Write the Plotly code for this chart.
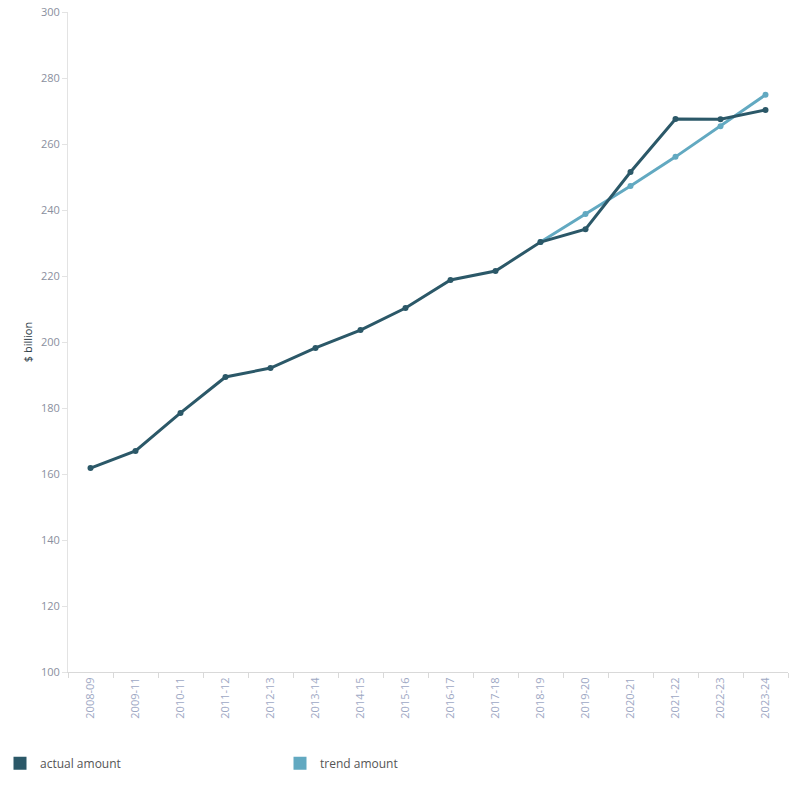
import plotly.graph_objects as go

years = ["2008-09", "2009-11", "2010-11", "2011-12", "2012-13", "2013-14", "2014-15", "2015-16",
         "2016-17", "2017-18", "2018-19", "2019-20", "2020-21", "2021-22", "2022-23", "2023-24"]
actual = [161.8, 167.0, 178.5, 189.4, 192.1, 198.2, 203.6, 210.3,
          218.8, 221.5, 230.3, 234.2, 251.5, 267.6, 267.5, 270.3]
trend_years = ["2018-19", "2019-20", "2020-21", "2021-22", "2022-23", "2023-24"]
trend = [230.3, 238.8, 247.3, 256.1, 265.4, 274.9]

c_actual = "#2b5868"
c_trend = "#62a9c1"
font = "Open Sans"

fig = go.Figure()
fig.add_trace(go.Scatter(x=trend_years, y=trend, mode="lines+markers", name="trend amount",
                         line=dict(color=c_trend, width=3), marker=dict(color=c_trend, size=6),
                         showlegend=False))
fig.add_trace(go.Scatter(x=years, y=actual, mode="lines+markers", name="actual amount",
                         line=dict(color=c_actual, width=3), marker=dict(color=c_actual, size=6),
                         showlegend=False))
# legend entries (square swatches)
fig.add_trace(go.Scatter(x=[None], y=[None], mode="markers", name="actual amount",
                         marker=dict(symbol="square", size=13, color=c_actual)))
fig.add_trace(go.Scatter(x=[None], y=[None], mode="markers", name="trend amount",
                         marker=dict(symbol="square", size=13, color=c_trend)))

fig.update_layout(
    width=800, height=800,
    margin=dict(l=68, r=12, t=12, b=128),
    plot_bgcolor="white", paper_bgcolor="white",
    font=dict(family=font, size=11, color="#666666"),
    legend=dict(orientation="h", xref="container", yref="container",
                x=0, xanchor="left", y=0.046, yanchor="middle",
                entrywidth=235, entrywidthmode="pixels", itemwidth=30,
                font=dict(size=12, color="#555555")),
    xaxis=dict(type="category", categoryorder="array", categoryarray=years,
               range=[-0.5, 15.5], showgrid=False, showline=True, linecolor="#d9d9d9",
               ticks="outside", tickson="boundaries", ticklen=5, tickcolor="#d9d9d9",
               tickangle=-90, tickfont=dict(size=11, color="#9ea8c4"), zeroline=False,
               automargin=False),
    yaxis=dict(range=[100, 300], dtick=20, showgrid=False, showline=True, linecolor="#e3e3e3",
               ticks="outside", ticklen=5, tickcolor="#e3e3e3", zeroline=False,
               tickfont=dict(size=11, color="#8a8f9e"), automargin=False,
               title=dict(text="$ billion", font=dict(size=11, color="#2b3a45"), standoff=6)),
)

fig.write_html("out.html")
